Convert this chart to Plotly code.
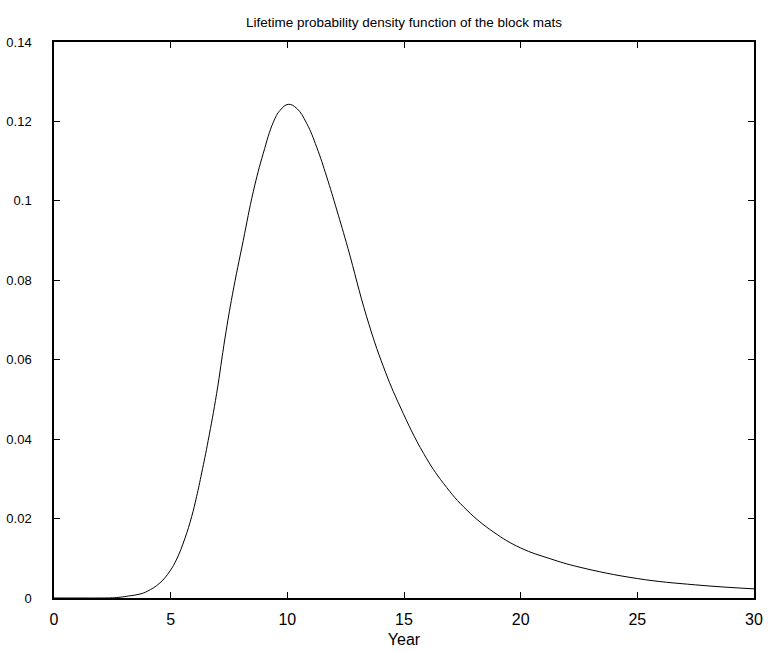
import plotly.graph_objects as go

# Data
years = [0, 1, 2, 2.5, 2.83, 3.2, 3.69, 4.0, 4.54, 4.97, 5.26, 5.61, 5.9, 6.11, 6.33,
         6.61, 6.97, 7.33, 7.65, 8.11, 8.54, 8.97, 9.4, 9.69, 10.04, 10.4, 10.83,
         11.26, 11.69, 12.12, 12.6, 13.4, 14.12, 14.84, 15.84, 16.7, 17.7, 18.84,
         20.0, 21.26, 22.5, 25.0, 27.5, 30.0]
density = [0, 0, 0, 0.00005, 0.0002, 0.0005, 0.001, 0.0017, 0.0038, 0.0068, 0.0098,
           0.015, 0.0205, 0.0255, 0.0315, 0.0397, 0.0515, 0.0655, 0.0765, 0.09,
           0.1023, 0.112, 0.1198, 0.1228, 0.1243, 0.1233, 0.1195, 0.1135, 0.1060,
           0.0977, 0.088, 0.0708, 0.0582, 0.0481, 0.0364, 0.0288, 0.0221, 0.0166,
           0.0126, 0.0099, 0.0078, 0.0049, 0.0033, 0.0023]

x_ticks = [0, 5, 10, 15, 20, 25, 30]
x_labels = ["0", "5", "10", "15", "20", "25", "30"]
y_ticks = [0, 0.02, 0.04, 0.06, 0.08, 0.1, 0.12, 0.14]
y_labels = ["0", "0.02", "0.04", "0.06", "0.08", "0.1", "0.12", "0.14"]

title_text = "Lifetime probability density function of the block mats"
x_title = "Year"

FONT = "Liberation Sans, Arial, sans-serif"

fig = go.Figure()
fig.add_trace(go.Scatter(
    x=years, y=density, mode="lines",
    line=dict(color="black", width=1, shape="spline", smoothing=1.2),
    showlegend=False, hoverinfo="x+y",
))

axis_common = dict(
    showgrid=False, zeroline=False, showline=True, linecolor="black", linewidth=1.5,
    mirror="ticks", ticks="inside", ticklen=6, tickcolor="black", tickwidth=1,
    automargin=False,
)

fig.update_layout(
    width=768, height=652,
    margin=dict(l=54, r=14, t=42, b=54),
    paper_bgcolor="white", plot_bgcolor="white",
    font=dict(family=FONT, color="black", size=14),
    title=dict(text=title_text, x=(54 + 754) / 2 / 768, xanchor="center",
               y=1 - 22 / 652, yanchor="middle", yref="container",
               font=dict(family=FONT, size=13.5, color="black")),
    xaxis=dict(range=[0, 30], tickvals=x_ticks, ticktext=x_labels,
               tickfont=dict(size=16), ticklabelstandoff=6,
               title=dict(text=x_title, font=dict(size=16), standoff=7),
               **axis_common),
    yaxis=dict(range=[0, 0.14], tickvals=y_ticks, ticktext=y_labels,
               tickfont=dict(size=13), ticklabelstandoff=18,
               **axis_common),
)

fig.write_html("out.html")
